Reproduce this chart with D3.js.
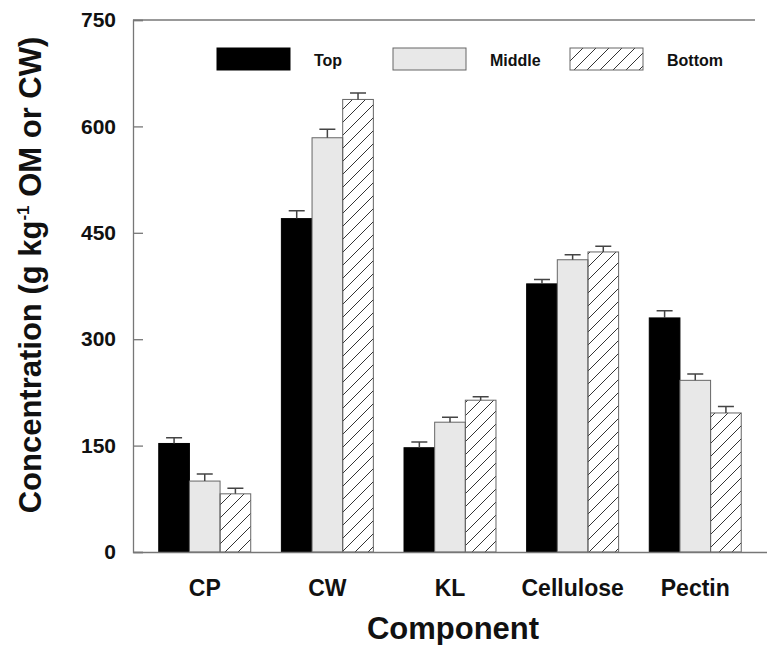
<!DOCTYPE html>
<html>
<head>
<meta charset="utf-8">
<script src="https://cdn.jsdelivr.net/npm/d3@7"></script>
<style>
  body { margin: 0; background: #fff; }
  text { font-family: "Liberation Sans", Arial, sans-serif; font-weight: bold; fill: #111; }
</style>
</head>
<body>
<div id="chart"></div>
<script>
var components = ["CP", "CW", "KL", "Cellulose", "Pectin"];
var positions = ["Top", "Middle", "Bottom"];
var topMeans = [153, 470, 147, 378, 330];
var topErr = [8, 11, 8, 6, 10];
var middleMeans = [100, 584, 183, 412, 242];
var middleErr = [10, 12, 7, 7, 9];
var bottomMeans = [82, 638, 214, 423, 196];
var bottomErr = [8, 9, 5, 8, 9];
var yTicks = [0, 150, 300, 450, 600, 750];

var svgWidth = 767;
var svgHeight = 645;

var margin = { top: 20, right: 0, bottom: 93, left: 133 };
var width = svgWidth - margin.left - margin.right;
var height = svgHeight - margin.top - margin.bottom;

var svg = d3.select("#chart").append("svg")
    .attr("width", svgWidth)
    .attr("height", svgHeight);

// hatch pattern for the bottom series
svg.append("defs").append("pattern")
    .attr("id", "hatch")
    .attr("patternUnits", "userSpaceOnUse")
    .attr("width", 13)
    .attr("height", 13)
  .append("path")
    .attr("d", "M0,13 L13,0 M-3,3 L3,-3 M10,16 L16,10")
    .attr("stroke", "#333")
    .attr("stroke-width", 1);

var chartGroup = svg.append("g")
    .attr("transform", `translate(${margin.left}, ${margin.top})`);

var series = [
  { name: "Top", means: topMeans, err: topErr, fill: "#000", stroke: "#000" },
  { name: "Middle", means: middleMeans, err: middleErr, fill: "#e8e8e8", stroke: "#666" },
  { name: "Bottom", means: bottomMeans, err: bottomErr, fill: "url(#hatch)", stroke: "#666" }
];

var x0 = d3.scaleBand()
    .domain(components)
    .range([0, width])
    .paddingInner(0.25)
    .paddingOuter(0.21);

var x1 = d3.scaleBand()
    .domain(positions)
    .range([0, x0.bandwidth()]);

var yLinearScale = d3.scaleLinear()
    .domain([0, 750])
    .range([height, 0]);

// bars
series.forEach(function(s) {
  var g = chartGroup.append("g").classed("series", true);

  g.selectAll("rect")
    .data(components)
    .enter()
    .append("rect")
    .attr("x", (d, i) => x0(d) + x1(s.name))
    .attr("y", (d, i) => yLinearScale(s.means[i]))
    .attr("width", x1.bandwidth())
    .attr("height", (d, i) => height - yLinearScale(s.means[i]))
    .attr("fill", s.fill)
    .attr("stroke", s.stroke)
    .attr("stroke-width", 1);

  // upper error bars
  g.selectAll(".err")
    .data(components)
    .enter()
    .append("path")
    .classed("err", true)
    .attr("d", function(d, i) {
      var cx = x0(d) + x1(s.name) + x1.bandwidth() / 2;
      var yTop = yLinearScale(s.means[i]);
      var yErr = yLinearScale(s.means[i] + s.err[i]);
      return `M${cx},${yTop} L${cx},${yErr} M${cx - 8},${yErr} L${cx + 8},${yErr}`;
    })
    .attr("fill", "none")
    .attr("stroke", "#444")
    .attr("stroke-width", 1.5);
});

// axes
var leftAxis = d3.axisLeft(yLinearScale)
    .tickValues(yTicks)
    .tickSize(-10)
    .tickPadding(17)
    .tickFormat(d3.format("d"));

var yAxis = chartGroup.append("g")
    .classed("y-axis", true)
    .call(leftAxis);

yAxis.select(".domain").attr("stroke", "#777").attr("stroke-width", 1.3);
yAxis.selectAll(".tick line").attr("stroke", "#777").attr("stroke-width", 1.3);
yAxis.selectAll(".tick text")
    .attr("font-size", "21px")
    .attr("font-family", "Liberation Sans, Arial, sans-serif")
    .attr("font-weight", "bold")
    .attr("fill", "#111");

var bottomAxis = d3.axisBottom(x0).tickSize(0).tickPadding(28);

var xAxis = chartGroup.append("g")
    .classed("x-axis", true)
    .attr("transform", `translate(0, ${height})`)
    .call(bottomAxis);

xAxis.select(".domain").attr("stroke", "#777").attr("stroke-width", 1.3);
xAxis.selectAll(".tick text")
    .attr("font-size", "23px")
    .attr("font-family", "Liberation Sans, Arial, sans-serif")
    .attr("font-weight", "bold")
    .attr("fill", "#111");

// top frame line
chartGroup.append("line")
    .attr("x1", 0)
    .attr("x2", width - 12)
    .attr("y1", 0)
    .attr("y2", 0)
    .attr("stroke", "#777")
    .attr("stroke-width", 1.3);

// axis titles
chartGroup.append("text")
    .attr("x", 320)
    .attr("y", height + 87)
    .attr("text-anchor", "middle")
    .attr("font-size", "31px")
    .text("Component");

var yTitle = chartGroup.append("text")
    .attr("transform", `translate(${-92}, ${255}) rotate(-90)`)
    .attr("text-anchor", "middle")
    .attr("font-size", "31px");

yTitle.append("tspan").text("Concentration (g kg");
yTitle.append("tspan").attr("dy", -12).attr("font-size", "17px").text("-1");
yTitle.append("tspan").attr("dy", 12).text(" OM or CW)");

// legend
var legendX = [84, 260, 437];
var legend = chartGroup.selectAll(".legend")
    .data(series)
    .enter()
    .append("g")
    .classed("legend", true)
    .attr("transform", (d, i) => `translate(${legendX[i]}, 28)`);

legend.append("rect")
    .attr("width", 73)
    .attr("height", 22)
    .attr("fill", d => d.fill)
    .attr("stroke", d => d.stroke)
    .attr("stroke-width", 1);

legend.append("text")
    .attr("x", 97)
    .attr("y", 18)
    .attr("font-size", "16px")
    .text(d => d.name);
</script>
</body>
</html>
